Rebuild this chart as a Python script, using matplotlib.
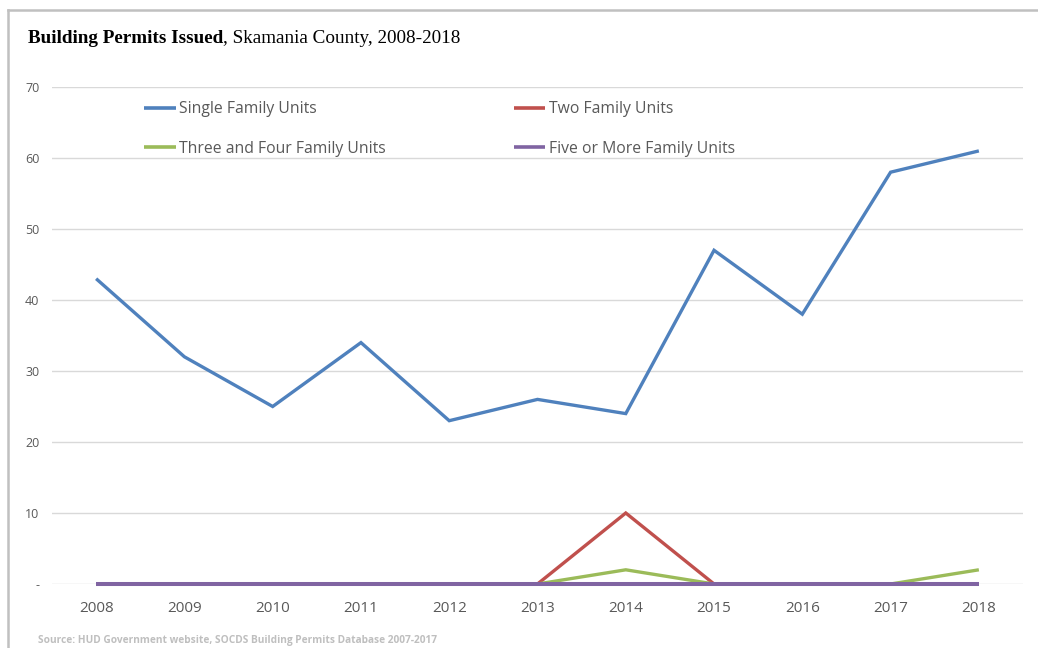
import numpy as np
import matplotlib.pyplot as plt
from matplotlib.lines import Line2D

# data
years = [2008, 2009, 2010, 2011, 2012, 2013, 2014, 2015, 2016, 2017, 2018]
single = [43, 32, 25, 34, 23, 26, 24, 47, 38, 58, 61]
two = [0, 0, 0, 0, 0, 0, 10, 0, 0, 0, 0]
three_four = [0, 0, 0, 0, 0, 0, 2, 0, 0, 0, 2]
five_plus = [0, 0, 0, 0, 0, 0, 0, 0, 0, 0, 0]
series_names = ["Single Family Units", "Two Family Units",
                "Three and Four Family Units", "Five or More Family Units"]
colors = ["#4f81bd", "#c0504d", "#9bbb59", "#8064a2"]
widths = [2.4, 2.4, 2.4, 2.9]  # purple a bit wider so it hides the zero runs
yticks = [0, 10, 20, 30, 40, 50, 60, 70]
ytick_labels = ["-", "10", "20", "30", "40", "50", "60", "70"]

W, H = 1038, 648
fig = plt.figure(figsize=(W / 100, H / 100), dpi=100)
ax = fig.add_axes([52 / W, 1 - 584 / H, (1023 - 52) / W, (584 - 87) / H])

x = np.arange(len(years))
handles = []
for i, (vals, name, c) in enumerate(zip([single, two, three_four, five_plus],
                                        series_names, colors)):
    h, = ax.plot(x, vals, color=c, lw=widths[i], label=name,
                 solid_capstyle="butt", solid_joinstyle="miter",
                 clip_on=False, zorder=3 + i)
    handles.append(h)

ax.set_xlim(-0.5, len(years) - 0.5)
ax.set_ylim(0, 70)
ax.set_xticks(x)
ax.set_xticklabels([str(y) for y in years], fontsize=11, color="#595959",
                   family="Open Sans")
ax.set_yticks(yticks)
ax.set_yticklabels(ytick_labels, fontsize=9, color="#595959", family="Open Sans")
ax.tick_params(length=0)
ax.tick_params(axis="x", pad=12)
ax.tick_params(axis="y", pad=9)
ax.grid(axis="y", color="#d9d9d9", lw=1)
ax.set_axisbelow(True)
for s in ax.spines.values():
    s.set_visible(False)

# legend, two columns
order = [handles[0], handles[2], handles[1], handles[3]]
leg = ax.legend(order, [h.get_label() for h in order], ncol=2, frameon=False,
                loc="upper left", bbox_to_anchor=(78 / (1023 - 52), 1.0),
                prop={"family": "Open Sans", "size": 11.3}, handlelength=2.0,
                handletextpad=0.2, columnspacing=8.2, labelspacing=1.5,
                labelcolor="#595959")
for lh in leg.get_lines():
    lh.set_linewidth(2.6)

# title with bold lead-in
t1 = fig.text(28 / W, 1 - 47 / H, "Building Permits Issued", fontsize=13.8,
              fontweight="bold", family="Liberation Serif", va="bottom")
fig.canvas.draw()
ax.annotate(", Skamania County, 2008-2018", xy=(1, 0), xycoords=t1,
            fontsize=13.8, family="Liberation Serif", va="bottom", ha="left")

fig.text(38 / W, 1 - 640 / H,
         "Source: HUD Government website, SOCDS Building Permits Database 2007-2017",
         fontsize=7.3, fontweight="bold", color="#bfbfbf", family="Open Sans",
         va="center")

# outer frame (top and left edges visible)
fig.add_artist(Line2D([8 / W, 1], [1 - 10 / H, 1 - 10 / H], color="#c0c0c0",
                      lw=1.8, transform=fig.transFigure))
fig.add_artist(Line2D([8 / W, 8 / W], [0, 1 - 10 / H], color="#c0c0c0",
                      lw=1.8, transform=fig.transFigure))

fig.savefig("out.png", dpi=100)
